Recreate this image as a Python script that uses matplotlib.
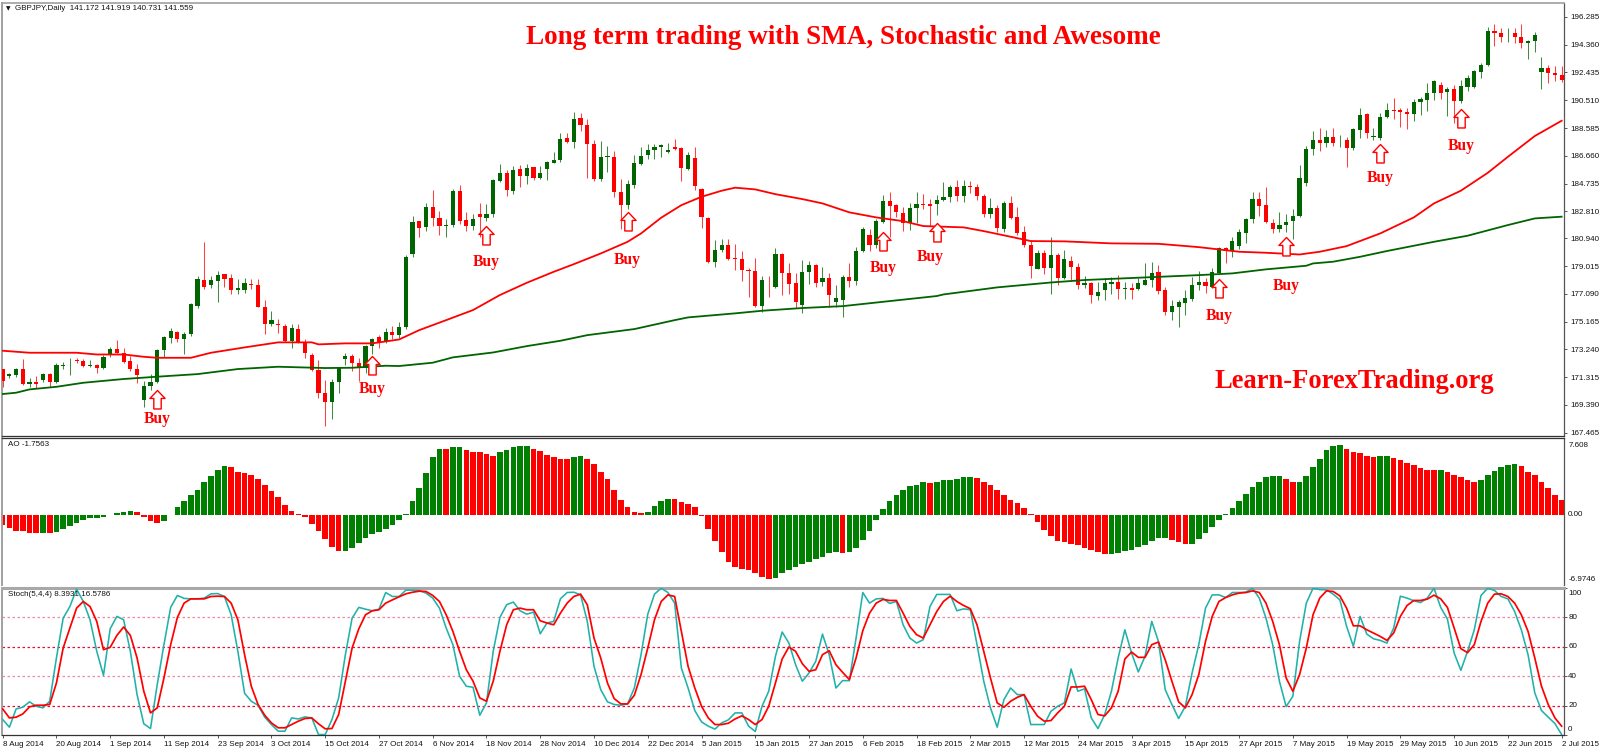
"""GBPJPY daily chart with SMA lines, Awesome Oscillator and Stochastic panels."""
import matplotlib
matplotlib.use("Agg")
import matplotlib.pyplot as plt
from matplotlib.path import Path

W, H = 1600, 753
RED, DKGREEN, AOGREEN, TEAL = "#ff0000", "#006400", "#008000", "#20b2aa"

candle_colors = ("RGGRGRGRGG" "GRRGRGGRRR" "RGGGGGRGGG" "RGGRRGGRRR" "GRRGRRRRRG" "GGRRGGRGRG"
                 "GGRGRRGGRR" "GRGGGRGRGR" "GGGGRGRRRG" "GRRGGGGGGG" "RRGRRRGGRR" "RRRGRGRRRG"
                 "GRGRGGRGGR" "GGRRRGGRRG" "GGRGRRRGRG" "RRRRGRGRGR" "RGRGGGRGRG" "GGRRGGGGGR"
                 "GGRGGGGRRR" "GGGGGGRGRG" "RGGRGGGRRR" "GGGGRGRGGG" "GGRRGRRGGG" "RRR")
body_top = [171.86,171.53,171.86,171.86,170.95,170.95,171.53,171.53,172.16,172.16,
            172.18,172.50,172.46,172.13,172.16,172.73,173.24,173.24,173.01,172.43,
            171.86,170.70,170.98,173.20,174.07,174.53,174.42,174.30,176.38,178.09,
            178.05,178.05,178.39,178.46,178.16,177.51,177.82,177.79,177.70,176.15,
            175.27,175.02,174.88,174.72,174.65,173.70,172.85,171.81,170.19,171.00,
            171.92,172.78,172.78,172.32,173.50,173.96,174.07,174.42,174.42,174.81,
            179.62,182.07,182.11,183.08,183.08,182.37,181.88,184.21,184.21,182.20,
            182.25,182.60,182.62,184.98,185.44,185.44,185.67,185.72,185.83,185.85,
            185.44,186.22,186.36,187.82,187.89,189.18,189.27,188.81,187.47,186.59,
            186.62,186.55,184.14,184.68,186.13,186.66,187.06,187.26,187.38,187.03,
            187.29,187.17,186.71,186.50,184.35,182.37,180.12,180.49,180.49,179.55,
            179.50,178.74,178.67,178.05,177.65,179.85,179.85,178.55,177.82,178.62,
            179.09,179.06,178.16,178.16,176.82,178.28,178.28,180.08,181.58,181.19,
            182.13,183.52,183.50,183.24,182.67,183.04,183.34,183.34,183.29,183.59,
            183.80,184.51,184.47,184.56,184.56,184.51,183.87,183.04,183.06,183.36,
            183.36,182.43,181.37,180.49,179.89,179.89,179.78,179.78,179.50,179.36,
            178.97,177.82,177.82,177.21,177.82,177.93,177.93,177.52,177.52,177.82,
            178.05,178.55,178.58,177.35,176.24,176.50,176.77,177.70,177.93,177.93,
            178.60,180.24,180.24,180.73,181.40,182.25,183.68,183.68,183.22,181.97,
            181.88,182.07,182.46,185.09,187.12,187.77,187.75,187.93,187.93,187.77,
            187.75,188.49,189.50,189.53,188.03,189.32,189.80,189.85,189.80,189.69,
            190.40,190.57,191.03,191.81,191.54,191.28,191.26,191.49,192.04,192.51,
            192.95,195.32,195.32,195.16,195.19,195.14,194.86,194.63,195.05,192.76,
            192.76,192.37,192.23]
body_bot = [171.05,171.39,171.46,170.84,170.84,170.82,171.12,170.95,170.95,172.11,
            172.13,172.43,172.09,172.09,171.97,171.95,172.92,173.01,172.39,171.86,
            171.46,169.73,170.70,171.00,173.20,174.05,173.93,173.96,174.28,176.24,
            177.58,177.70,178.00,178.14,177.35,177.35,177.35,177.70,176.20,175.00,
            174.97,174.90,173.84,173.84,173.70,173.01,171.81,170.19,169.61,169.61,
            171.00,172.57,172.32,171.92,171.92,173.50,173.77,173.84,174.23,174.23,
            174.77,179.85,181.67,181.70,182.32,181.79,181.81,181.86,182.16,181.79,
            181.79,182.39,182.37,182.62,184.88,184.28,184.24,185.25,185.25,185.11,
            185.11,185.72,186.18,186.36,187.63,187.63,188.81,187.47,185.07,185.07,
            186.57,184.14,183.27,183.27,184.65,186.08,186.71,187.06,187.24,186.94,
            187.15,185.81,185.74,184.58,182.41,179.27,179.29,180.12,179.52,179.50,
            178.72,178.69,176.24,176.27,177.61,177.54,178.55,177.77,176.52,176.31,
            178.60,177.82,177.91,176.98,176.52,176.66,178.00,177.95,180.08,180.47,
            180.45,182.07,183.15,182.74,182.02,182.02,183.04,183.27,183.17,183.34,
            183.59,183.80,183.89,183.89,184.49,183.87,182.60,182.62,181.65,181.60,
            182.34,181.28,180.47,179.04,178.83,178.88,178.88,178.18,178.18,178.97,
            177.68,177.68,176.98,176.96,177.35,177.79,177.42,177.45,177.38,177.42,
            177.70,178.05,177.31,175.85,175.83,176.20,176.43,176.75,177.68,177.63,
            177.58,178.55,180.08,180.08,180.40,181.33,182.30,183.20,182.07,181.58,
            181.56,181.86,182.11,182.48,184.79,187.12,187.56,187.56,187.52,187.73,
            187.22,187.22,188.46,188.21,187.98,187.91,189.32,189.78,189.67,189.57,
            189.55,190.40,190.54,191.03,190.98,191.05,190.43,190.43,191.42,191.44,
            192.46,192.92,195.19,194.86,195.14,194.86,194.45,194.45,194.63,192.46,
            192.41,192.23,191.91]
highs = [171.86,171.63,171.93,172.55,171.23,171.39,171.63,171.58,172.27,172.39,
         172.62,172.66,172.55,172.50,172.22,172.85,173.43,173.89,173.31,172.78,
         172.22,171.07,171.53,173.24,174.17,174.70,174.53,174.47,176.43,178.32,
         180.66,178.32,178.69,178.46,178.46,178.09,178.16,178.09,178.09,176.66,
         175.92,175.32,175.00,175.00,175.00,173.93,172.96,172.50,171.12,171.16,
         172.04,172.96,172.92,172.62,173.54,174.00,174.23,174.70,174.86,175.16,
         179.78,182.48,182.16,183.41,184.28,182.83,182.25,184.33,184.63,182.78,
         182.62,183.36,183.31,185.02,186.08,185.67,185.95,186.02,186.08,185.90,
         185.95,186.32,186.89,188.21,188.21,189.67,189.64,189.18,187.75,187.70,
         187.33,187.01,185.02,184.98,186.71,187.24,187.47,187.45,187.47,187.52,
         187.79,187.24,186.94,187.24,184.40,182.39,180.82,180.86,180.91,180.52,
         180.08,178.85,179.57,178.32,178.32,180.24,179.89,179.20,178.51,179.43,
         179.39,179.15,178.92,178.55,177.70,178.39,179.25,180.36,181.74,181.56,
         182.25,183.94,184.17,183.31,183.13,183.36,184.14,184.00,183.64,183.96,
         184.86,184.63,184.98,184.98,184.89,184.70,183.98,183.71,183.24,183.54,
         183.87,183.13,181.79,180.82,180.12,180.12,181.05,179.89,180.12,179.71,
         179.20,178.32,177.91,177.91,178.16,178.28,178.39,177.93,177.82,178.16,
         179.20,179.27,179.09,177.58,176.66,176.66,177.35,178.28,178.69,178.16,
         178.85,180.36,180.36,181.00,181.56,182.32,184.12,184.12,184.47,182.25,
         182.76,182.60,182.94,186.02,187.33,188.37,188.56,188.44,188.56,188.09,
         187.93,188.56,189.99,189.64,188.56,189.60,190.34,190.68,189.94,189.99,
         190.57,190.75,191.68,191.91,191.79,191.40,191.56,191.91,192.23,192.60,
         193.06,195.56,195.79,195.49,195.49,195.49,195.79,194.68,195.21,193.48,
         192.95,192.88,192.88]
lows = [170.66,171.23,171.35,170.77,170.66,170.54,171.00,170.66,170.88,171.86,
        171.46,172.27,172.04,172.04,171.62,171.88,172.69,172.96,172.32,171.76,
        170.88,169.27,170.42,170.93,172.73,173.66,173.77,172.92,174.17,176.08,
        177.40,177.51,176.54,177.58,177.08,177.08,177.12,177.40,176.15,174.30,
        174.86,174.40,173.77,173.36,173.66,172.66,171.74,169.85,167.93,168.41,
        170.19,172.16,171.76,171.05,171.62,172.92,173.36,173.66,173.93,174.00,
        174.63,179.62,181.05,181.47,181.79,181.16,181.05,181.70,181.93,181.47,
        181.51,181.05,182.16,182.43,184.84,183.89,184.00,184.47,184.68,184.98,
        185.02,184.98,186.13,186.25,187.56,187.22,188.39,185.14,184.93,184.93,
        185.55,183.77,181.56,182.99,184.40,185.99,186.45,186.41,186.59,186.87,
        187.06,184.90,185.67,184.28,181.63,179.20,178.97,179.99,179.43,178.74,
        178.00,176.84,176.20,175.85,176.84,177.47,177.00,177.08,176.08,175.74,
        177.77,177.58,177.63,176.15,176.15,175.46,177.58,177.68,179.99,180.08,
        180.24,181.97,181.05,182.39,181.47,181.51,182.02,182.94,181.79,182.55,
        183.50,183.47,183.54,183.47,184.10,183.59,182.39,182.34,181.40,181.40,
        182.25,181.16,180.36,178.21,178.79,178.46,177.08,177.68,178.14,178.05,
        177.42,177.47,176.43,176.66,176.66,177.08,176.73,176.73,176.71,177.35,
        177.68,177.58,177.08,175.62,175.27,174.81,175.62,176.61,177.35,177.12,
        177.47,178.51,179.20,179.62,180.17,180.63,182.02,182.50,181.97,181.33,
        181.40,181.40,180.86,182.43,184.56,186.71,187.01,187.29,187.33,187.24,
        185.90,187.05,187.86,187.86,187.75,187.75,189.25,189.18,188.63,188.51,
        189.09,189.48,189.78,190.52,190.61,189.43,188.90,190.29,191.17,191.35,
        192.02,192.88,194.26,194.56,194.56,194.49,194.15,193.38,193.87,191.28,
        191.68,191.86,191.79]

sma_red_bars = [0,4,11,14,18,21,23,28,31,36,41,46,47,51,55,59,62,66,70,74,78,82,85,89,93,95,98,
                101,104,107,109,112,115,119,122,126,130,134,137,143,146,150,153,158,165,172,178,
                184,188,193,196,200,205,210,213,217,221,224,228,230,232]
sma_red = [173.15,173.01,173.01,172.89,172.89,172.73,172.66,172.66,173.01,173.38,173.73,173.73,173.59,
           173.66,173.66,173.93,174.58,175.27,175.97,177.01,177.86,178.62,179.15,179.89,180.70,181.28,
           182.37,183.24,183.82,184.24,184.45,184.33,184.00,183.66,183.36,182.74,182.39,182.13,181.79,
           181.70,181.44,181.05,180.75,180.73,180.59,180.56,180.33,180.01,179.94,179.82,180.01,180.40,
           181.28,182.39,183.36,184.24,185.48,186.59,188.03,188.56,189.09]
sma_green_bars = [0,2,4,8,12,18,23,29,35,41,48,52,57,59,64,67,73,78,83,87,94,100,102,109,113,119,125,
                  132,139,140,148,156,161,178,183,188,194,195,198,202,206,213,218,224,228,232]
sma_green = [170.15,170.24,170.47,170.65,170.93,171.19,171.35,171.53,171.88,172.04,171.95,171.97,172.11,
             172.09,172.32,172.69,173.03,173.47,173.84,174.23,174.65,175.27,175.46,175.74,175.92,176.11,
             176.24,176.59,176.94,177.05,177.54,177.88,178.05,178.39,178.51,178.79,179.04,179.20,179.32,
             179.66,180.06,180.70,181.12,181.86,182.32,182.44]

ao_values = [-1.05,-1.31,-1.57,-1.64,-1.80,-1.80,-1.80,-1.80,-1.73,-1.41,-1.08,-0.82,-0.49,-0.33,-0.33,
             -0.23,-0.07,0.20,0.29,0.39,0.29,-0.23,-0.65,-0.82,-0.59,-0.07,0.72,1.31,1.90,2.45,3.27,
             3.86,4.45,4.84,4.75,4.25,4.09,3.93,3.53,2.95,2.36,1.70,0.98,0.39,0.07,-0.26,-0.92,-1.57,
             -2.39,-3.21,-3.53,-3.53,-3.27,-2.78,-2.29,-1.87,-1.70,-1.41,-0.98,-0.56,0.07,1.31,2.62,
             4.09,5.66,6.48,6.48,6.68,6.68,6.35,6.19,6.19,5.99,5.83,6.19,6.41,6.68,6.81,6.81,
             6.48,6.28,5.89,5.70,5.50,5.50,5.66,5.83,5.50,5.01,4.25,3.53,2.45,1.47,0.72,0.26,0.13,
             0.26,0.88,1.37,1.57,1.57,1.28,1.05,0.72,-0.10,-1.41,-2.55,-3.63,-4.61,-5.11,-5.30,-5.43,
             -5.79,-6.12,-6.38,-6.19,-5.79,-5.43,-5.11,-4.84,-4.61,-4.35,-4.12,-3.80,-3.63,-3.73,-3.63,
             -3.31,-2.45,-1.57,-0.49,0.56,1.37,1.96,2.39,2.78,2.95,3.21,3.11,3.21,3.44,3.44,3.53,3.70,
             3.76,3.60,3.27,2.88,2.39,1.90,1.47,1.15,0.65,0.03,-0.72,-1.47,-2.06,-2.55,
             -2.68,-2.88,-3.01,-3.27,-3.44,-3.70,-3.83,-3.86,-3.76,-3.60,-3.44,-3.21,-2.95,-2.62,-2.29,
             -2.29,-2.45,-2.72,-2.85,-2.85,-2.39,-1.80,-1.21,-0.49,0.10,0.65,1.37,2.06,2.72,3.27,3.70,
             3.86,3.86,3.53,3.21,3.27,3.86,4.68,5.50,6.35,6.81,6.91,6.48,6.19,6.09,5.83,5.66,5.76,5.76,
             5.63,5.37,5.11,4.91,4.65,4.45,4.45,4.45,4.19,3.93,3.70,3.44,3.27,3.44,3.93,4.35,4.68,4.91,
             5.01,4.78,4.25,3.93,3.27,2.62,1.96,1.47]
ao_color_runs = [("R",6),("G",1),("R",1),("G",12),("R",4),("G",10),("R",17),("G",15),("R",1),("G",2),
                 ("R",5),("G",5),("R",6),("G",2),("R",9),("G",4),("R",15),("G",10),("R",1),("G",12),
                 ("R",1),("G",6),("R",20),("G",9),("R",3),("G",14),("R",2),("G",7),("R",5),("G",2),
                 ("R",7),("G",1),("R",5),("G",6),("R",7)]

stoch_main = [10.7,5.5,17.9,19.1,22.7,19.7,18.6,23.1,52.5,79.5,87.4,99.2,90.8,78.4,57.0,40.7,72.3,80.7,
              78.4,57.0,27.6,7.8,4.6,34.4,61.5,86.8,94.9,92.9,92.6,92.6,93.1,96.0,96.2,94.2,81.8,57.0,
              28.5,23.1,20.4,12.3,7.3,2.8,2.8,11.8,11.1,12.5,11.8,0.5,0.5,10.7,25.4,54.7,79.5,86.8,85.6,
              84.5,85.6,96.9,94.2,94.2,98.5,98.5,98.3,96.5,93.1,86.3,72.8,61.5,40.0,33.3,32.6,13.6,22.0,
              57.0,80.0,88.6,90.4,84.5,82.2,
              83.6,68.9,76.2,77.3,92.6,96.9,97.1,95.3,77.3,46.8,31.0,22.7,20.9,20.4,21.3,32.1,54.7,82.2,
              95.8,99.8,96.9,89.7,45.7,32.1,16.8,9.1,6.2,4.2,8.4,10.5,15.2,15.2,6.2,2.6,19.7,29.9,53.6,
              70.1,62.6,47.9,36.7,42.3,50.2,68.7,54.7,32.1,37.1,37.1,66.0,96.9,89.7,92.6,92.9,89.5,90.8,
              75.0,66.0,62.6,64.9,87.4,95.6,95.6,95.6,84.5,85.8,85.2,61.5,36.7,18.6,5.5,24.2,32.1,27.6,
              27.6,7.3,7.3,7.3,16.3,19.7,
              22.0,45.0,29.9,31.5,11.8,4.6,14.1,29.9,52.5,71.6,55.8,43.0,53.6,77.3,63.7,31.0,20.9,11.4,
              19.7,42.3,61.5,86.3,95.3,95.3,93.5,96.9,96.9,97.1,99.8,93.1,79.5,61.5,36.7,19.5,26.5,63.7,
              89.7,99.8,98.9,98.7,95.8,91.9,73.9,60.4,80.7,68.7,65.5,64.4,62.6,72.8,94.4,93.1,91.3,90.1,
              93.1,99.8,86.8,78.9,55.8,44.1,57.0,71.6,94.9,99.8,98.3,94.2,92.6,84.0,71.6,54.7,28.8,16.8,
              12.3,8.0,0.5]
stoch_signal = [17.9,11.8,12.3,14.5,19.3,20.4,20.4,20.9,35.5,59.2,72.8,86.3,90.8,87.4,77.3,58.1,59.7,67.8,
                73.5,67.8,52.5,29.9,15.2,18.6,38.9,61.5,80.0,89.7,92.6,92.6,92.6,94.2,94.4,94.2,89.7,78.4,
                54.7,33.3,20.9,13.6,8.4,5.1,5.1,7.3,9.6,11.4,11.8,7.8,4.4,4.6,14.1,36.7,59.2,72.3,81.8,
                84.5,85.2,89.7,91.9,94.0,96.0,97.1,97.8,97.6,94.9,90.8,81.8,70.5,57.0,44.5,36.7,25.4,23.1,
                36.7,57.0,75.0,85.2,86.3,85.2,
                85.2,77.7,76.2,75.0,82.9,89.7,94.2,95.8,88.6,66.0,52.5,35.5,24.9,21.3,21.3,27.2,41.2,59.2,
                78.4,90.8,95.3,94.2,70.5,46.8,32.1,19.7,11.8,7.3,7.3,8.2,11.1,13.2,10.7,7.3,10.7,19.7,35.5,
                51.8,59.9,57.0,48.6,43.4,44.5,54.7,57.4,47.9,42.7,37.8,52.5,71.0,82.9,89.7,92.2,91.5,91.5,
                82.9,73.9,68.3,66.0,75.0,84.0,90.8,94.4,90.8,88.1,85.9,75.0,57.0,38.9,22.0,19.0,23.1,25.8,
                27.6,19.7,13.0,9.6,10.0,15.2,
                19.7,32.8,32.8,33.3,24.2,14.1,13.2,18.6,29.9,51.8,56.5,52.9,52.9,61.5,63.3,51.3,36.7,22.7,
                18.6,27.6,41.2,63.7,80.7,90.8,93.5,95.3,96.5,96.9,98.0,96.9,89.7,77.3,61.5,38.9,29.9,41.2,
                59.2,81.8,93.1,98.0,97.6,94.6,86.3,74.3,74.3,71.6,69.4,67.1,64.4,69.4,80.7,88.1,91.5,91.5,
                92.4,95.1,92.6,86.8,72.8,58.8,56.1,61.5,77.3,89.7,95.8,96.0,94.2,89.7,81.8,70.5,52.5,33.3,
                20.9,11.8,6.2]
stoch_levels = [80, 60, 40, 20]
level_colors = ["#f08a9c", "#e0103c", "#f08a9c", "#e0103c"]

buy_bars = [23, 55, 72, 93, 131, 139, 181, 191, 205, 217]
buy_tips = [170.42, 172.78, 181.81, 182.76, 181.37, 182.00, 178.10, 181.03, 187.47, 189.90]
buy_label_bars = [23, 55, 72, 93, 131, 138, 181, 191, 205, 217]
buy_label_prices = [168.41, 170.49, 179.31, 179.43, 178.88, 179.64, 175.55, 177.63, 185.11, 187.33]

price_ticks = [196.285, 194.360, 192.435, 190.510, 188.585, 186.660, 184.735, 182.810,
               180.940, 179.015, 177.090, 175.165, 173.240, 171.315, 169.390, 167.465]
date_labels = ["8 Aug 2014", "20 Aug 2014", "1 Sep 2014", "11 Sep 2014", "23 Sep 2014", "3 Oct 2014",
               "15 Oct 2014", "27 Oct 2014", "6 Nov 2014", "18 Nov 2014", "28 Nov 2014", "10 Dec 2014",
               "22 Dec 2014", "5 Jan 2015", "15 Jan 2015", "27 Jan 2015", "6 Feb 2015", "18 Feb 2015",
               "2 Mar 2015", "12 Mar 2015", "24 Mar 2015", "3 Apr 2015", "15 Apr 2015", "27 Apr 2015",
               "7 May 2015", "19 May 2015", "29 May 2015", "10 Jun 2015", "22 Jun 2015", "2 Jul 2015"]

plt.rcParams["font.family"] = ["Liberation Sans", "DejaVu Sans"]
UI_SIZE = 5.8
UI_COLOR = "#111111"
XLIM = (-0.1, 232.35)


def panel(fig, top, bottom, ylim):
    ax = fig.add_axes([2 / W, 1 - bottom / H, 1562 / W, (bottom - top) / H])
    ax.set_xlim(*XLIM)
    ax.set_ylim(*ylim)
    ax.set_xticks([])
    ax.yaxis.tick_right()
    ax.tick_params(axis="y", length=2.5, width=0.7, color="#555555", labelsize=UI_SIZE, pad=2, labelcolor=UI_COLOR)
    ax.spines["left"].set(color="#a0a0a0", linewidth=1.4)
    ax.spines["right"].set(color="#555555", linewidth=0.9)
    ax.spines["top"].set(color="#333333", linewidth=0.9)
    ax.spines["bottom"].set(color="#333333", linewidth=0.9)
    return ax


fig = plt.figure(figsize=(W / 100, H / 100), dpi=100, facecolor="white")

# price panel
ax = panel(fig, 3, 436, (167.24, 197.25))
ax.spines["top"].set(color="#a0a0a0", linewidth=1.2)
bars = list(range(len(highs)))
colors = [RED if c == "R" else DKGREEN for c in candle_colors]
ax.vlines(bars, lows, highs, colors=colors, linewidth=0.75, alpha=0.75, zorder=2)
ax.bar(bars, [max(t - b, 0.05) for t, b in zip(body_top, body_bot)], bottom=body_bot, width=0.62,
       color=colors, linewidth=0, zorder=3)
ax.plot(sma_red_bars, sma_red, color=RED, linewidth=1.3, zorder=4)
ax.plot(sma_green_bars, sma_green, color=DKGREEN, linewidth=1.3, zorder=4)

arrow = Path([(0, 0), (0.41, -0.43), (0.2, -0.43), (0.2, -1), (-0.2, -1), (-0.2, -0.43), (-0.41, -0.43), (0, 0)], closed=True)
ax.plot(buy_bars, buy_tips, linestyle="none", marker=arrow, markersize=26.6, markerfacecolor="white",
        markeredgecolor=RED, markeredgewidth=1.0, zorder=5)
for bar, price in zip(buy_label_bars, buy_label_prices):
    ax.text(bar, price, "Buy", color=RED, family="Liberation Serif", weight="bold", fontsize=11.2,
            ha="center", va="center", zorder=6)
ax.set_yticks(price_ticks, [f"{p:.3f}" for p in price_ticks])
fig.text(843 / W, 1 - 44 / H, "Long term trading with SMA, Stochastic and Awesome", color=RED,
         family="Liberation Serif", weight="bold", fontsize=19.5, ha="center", va="baseline")
fig.text(1354.5 / W, 1 - 388 / H, "Learn-ForexTrading.org", color=RED, family="Liberation Serif",
         weight="bold", fontsize=19.1, ha="center", va="baseline")
fig.text(8 / W, 1 - 9 / H, "\u25bc", fontsize=4.2, color=UI_COLOR, family="DejaVu Sans", ha="center", va="center")
fig.text(15 / W, 1 - 9 / H, "GBPJPY,Daily  141.172 141.919 140.731 141.559", fontsize=UI_SIZE,
         color=UI_COLOR, va="center")

# awesome oscillator panel
ao = panel(fig, 437.5, 585.5, (-6.9746, 7.608))
ao_colors = []
for code, count in ao_color_runs:
    ao_colors += [RED if code == "R" else AOGREEN] * count
ao.bar(bars, ao_values, width=0.84, color=ao_colors, linewidth=0)
ao.set_yticks([])
for text, val, dy in [("7.608", 7.608, -5.5), ("0.00", 0, 0), ("-6.9746", -6.9746, 4)]:
    ao.annotate(text, (1, val), xycoords=ao.get_yaxis_transform(), xytext=(3, dy), textcoords="offset points",
                fontsize=UI_SIZE, color=UI_COLOR, va="center", annotation_clip=False)
ao.spines["bottom"].set_visible(False)
ao.text(6 / 1562, 1 - 7.5 / 148, "AO -1.7563", transform=ao.transAxes, fontsize=UI_SIZE, color=UI_COLOR, va="center")

# stochastic panel
st = panel(fig, 587.5, 735.3, (0.3, 100.3))
st.spines["top"].set(color="#a8a8a8", linewidth=2.2)
for lev, col in zip(stoch_levels, level_colors):
    st.axhline(lev, color=col, linewidth=0.9, linestyle=(0, (2, 2)), zorder=1)
st.plot(bars, stoch_main, color=TEAL, linewidth=1.15, zorder=3)
st.plot(bars, stoch_signal, color=RED, linewidth=1.25, zorder=4)
st.set_yticks([100, 80, 60, 40, 20, 0], [""] * 6)
for val, dy in [(100, -4.2), (80, 0), (60, 0), (40, 0), (20, 0), (0, 4.2)]:
    st.annotate(str(val), (1, val), xycoords=st.get_yaxis_transform(), xytext=(3, dy), textcoords="offset points",
                fontsize=UI_SIZE, color=UI_COLOR, va="center", annotation_clip=False)
st.text(6 / 1562, 1 - 7.5 / 148, "Stoch(5,4,4) 8.3931 16.5786", transform=st.transAxes, fontsize=UI_SIZE,
        color=UI_COLOR, va="center")
st.set_xticks(range(0, 233, 8), date_labels, ha="left")
st.tick_params(axis="x", length=2.5, width=0.7, color="#555555", labelsize=UI_SIZE, pad=1.5, labelcolor=UI_COLOR)

fig.savefig("out.png", dpi=100, facecolor="white")
